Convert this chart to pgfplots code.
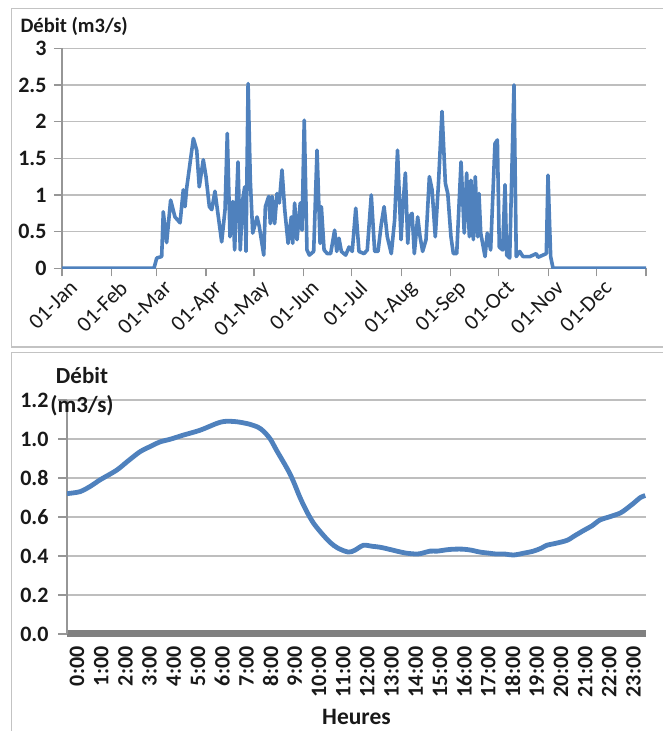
\documentclass[border=0pt]{standalone}
\usepackage{pgfplots}
\pgfplotsset{compat=1.18}
\usepackage{fontspec}
\setmainfont{Carlito}

\definecolor{serie}{RGB}{79,129,189}
\definecolor{grille}{RGB}{190,190,190}
\definecolor{axe}{RGB}{150,150,150}
\definecolor{barre}{RGB}{128,128,128}
\definecolor{cadre}{RGB}{195,195,195}
\definecolor{texte}{RGB}{25,25,25}

% debit journalier (jour de l'annee, m3/s)
\pgfplotstableread{
d v
0 0
57.5 0
59.2 0.14
62.3 0.16
63.3 0.77
65.4 0.35
67.9 0.93
70.6 0.70
73.8 0.62
75.8 1.07
76.9 0.84
77.9 1.09
82.1 1.77
84.2 1.61
85.8 1.11
88.3 1.48
90.0 1.25
92.1 0.84
93.6 0.80
95.6 1.05
97.3 0.77
99.8 0.36
101.9 0.80
103.3 1.84
105.0 0.43
106.7 0.91
107.9 0.25
110.0 1.45
111.4 0.25
112.9 0.93
114.2 1.11
115.0 0.23
116.3 2.52
117.7 1.20
119.2 0.48
121.9 0.70
123.3 0.57
126.1 0.18
127.1 0.84
129.2 0.98
130.2 0.61
131.3 0.98
132.9 0.61
134.4 1.02
135.8 0.89
137.5 1.34
139.2 0.80
141.3 0.34
143.3 0.70
144.2 0.34
145.4 0.89
146.9 0.39
148.9 0.89
150.0 0.52
151.4 2.02
153.1 0.25
154.6 0.18
157.3 0.23
159.4 1.61
161.3 0.34
162.1 0.84
163.8 0.25
165.8 0.20
167.9 0.20
170.4 0.52
171.7 0.23
173.1 0.41
174.6 0.23
177.3 0.18
179.4 0.29
181.4 0.23
183.6 0.82
185.6 0.23
188.8 0.20
190.8 0.25
193.3 1.00
195.4 0.23
197.5 0.23
199.6 0.61
201.3 0.84
203.3 0.43
205.8 0.20
207.9 0.66
209.7 1.61
211.9 0.39
212.9 0.80
214.6 1.30
216.1 0.34
217.1 0.70
218.8 0.75
220.2 0.20
222.3 0.70
223.8 0.43
225.4 0.23
227.5 0.39
229.6 1.25
231.3 1.07
233.3 0.43
235.4 1.20
237.5 2.14
239.6 1.16
241.1 1.02
243.1 0.43
244.6 0.20
246.7 0.20
249.4 1.45
251.4 0.48
252.9 1.30
254.6 0.43
255.6 1.20
257.1 0.39
258.3 1.25
259.8 0.43
260.6 1.02
261.7 0.48
264.4 0.16
265.8 0.48
267.9 0.25
270.6 1.70
272.1 1.75
273.3 0.29
275.4 0.25
276.9 1.14
277.9 0.18
279.8 0.14
282.5 2.50
283.9 0.16
286.1 0.23
288.1 0.16
292.5 0.16
296.4 0.20
297.5 0.15
302.7 0.20
303.75 1.27
305.4 0.16
306.9 0
365 0
}\annee

% debit horaire (heure, m3/s)
\pgfplotstableread{
h v
0 0.72
0.54 0.73
1.0 0.76
1.36 0.79
2.05 0.84
2.5 0.885
3.02 0.935
3.5 0.965
3.84 0.985
4.3 1.0
4.81 1.02
5.5 1.045
6.19 1.08
6.5 1.09
6.88 1.09
7.2 1.085
7.57 1.075
7.9 1.06
8.12 1.04
8.4 1.0
8.67 0.94
9.0 0.87
9.22 0.82
9.4 0.77
9.63 0.70
9.9 0.63
10.18 0.57
10.5 0.52
10.87 0.47
11.2 0.44
11.63 0.42
11.9 0.43
12.25 0.455
12.6 0.45
12.94 0.445
13.3 0.435
13.63 0.425
14.0 0.415
14.46 0.41
14.7 0.415
15.0 0.425
15.3 0.425
15.7 0.432
16.0 0.435
16.38 0.435
16.7 0.43
17.07 0.42
17.4 0.415
17.76 0.41
18.1 0.41
18.45 0.405
18.9 0.415
19.28 0.425
19.6 0.44
19.83 0.455
20.2 0.465
20.66 0.48
21.0 0.505
21.34 0.53
21.7 0.555
22.03 0.585
22.4 0.60
22.86 0.62
23.1 0.64
23.41 0.67
23.7 0.70
23.9 0.71
}\journee

\begin{document}
\begin{tikzpicture}
\path[use as bounding box] (0pt,0pt) rectangle (662pt,731pt);
% cadres
\draw[cadre, line width=1.5pt] (680pt,722.7pt) -- (11.7pt,722.7pt) -- (11.7pt,384pt) -- (680pt,384pt);
\draw[cadre, line width=1.5pt] (680pt,378.3pt) -- (11.7pt,378.3pt) -- (11.7pt,-10pt);

\begin{axis}[
  at={(62pt,462.7pt)}, anchor=south west,
  scale only axis, width=584pt, height=220pt,
  xmin=0, xmax=365, ymin=0, ymax=3,
  axis x line=bottom, axis y line=left,
  axis line style={-, axe, line width=1.2pt},
  xtick={0,31,59,90,120,151,181,212,243,273,304,334,365},
  xticklabels={01-Jan,01-Feb,01-Mar,01-Apr,01-May,01-Jun,01-Jul,01-Aug,01-Sep,01-Oct,01-Nov,01-Dec,},
  ytick={0,0.5,1,1.5,2,2.5,3},
  ymajorgrids, grid style={grille, line width=1.5pt},
  tick style={axe, line width=1.2pt}, tick align=outside, major tick length=8pt,
  /pgf/number format/assume math mode=true,
  x tick label style={rotate=45, anchor=north east, xshift=6pt, yshift=-3pt, text=texte, font=\fontsize{22}{22}\selectfont},
  y tick label style={xshift=-4pt, text=texte, font=\fontsize{22}{22}\selectfont\bfseries},
  ylabel={Débit (m3/s)},
  ylabel style={rotate=-90, at={(rel axis cs:0,1)}, anchor=west, xshift=-45pt, yshift=22pt,
    text=texte, font=\fontsize{20.5}{20.5}\selectfont\bfseries},
]
\addplot[serie, line width=3.6pt, line join=round] table[x=d, y=v] {\annee};
\end{axis}

\begin{axis}[
  at={(67pt,97pt)}, anchor=south west,
  scale only axis, width=579pt, height=234pt,
  xmin=0, xmax=23.93, ymin=0, ymax=1.2,
  axis x line=bottom, axis y line=left,
  axis line style={-},
  x axis line style={barre, line width=7pt},
  y axis line style={axe, line width=1.2pt},
  xtick={0,1,...,23},
  xticklabels={0:00,1:00,2:00,3:00,4:00,5:00,6:00,7:00,8:00,9:00,10:00,11:00,12:00,13:00,14:00,15:00,16:00,17:00,18:00,19:00,20:00,21:00,22:00,23:00},
  xtick style={draw=none},
  ytick={0,0.2,0.4,0.6,0.8,1.0,1.2},
  ytick style={axe, line width=1.2pt}, tick align=outside, major tick length=9pt,
  ymajorgrids, grid style={grille, line width=1.5pt},
  /pgf/number format/assume math mode=true,
  /pgf/number format/fixed, /pgf/number format/fixed zerofill, /pgf/number format/precision=1,
  x tick label style={rotate=90, anchor=east, yshift=-10pt, text=texte, font=\fontsize{22}{22}\selectfont\bfseries},
  y tick label style={xshift=-6pt, text=texte, font=\fontsize{22}{22}\selectfont\bfseries},
  xlabel={Heures},
  xlabel style={at={(rel axis cs:0.5,0)}, anchor=center, yshift=-83pt,
    text=texte, font=\fontsize{23.5}{23.5}\selectfont\bfseries},
  ylabel={Débit\\(m3/s)},
  ylabel style={rotate=-90, align=center, at={(rel axis cs:0,1)}, anchor=center, xshift=15pt, yshift=8pt,
    text=texte, font=\fontsize{23}{29}\selectfont\bfseries},
]
\addplot[serie, line width=4.8pt, smooth, line join=round] table[x=h, y=v] {\journee};
\end{axis}
\end{tikzpicture}
\end{document}
